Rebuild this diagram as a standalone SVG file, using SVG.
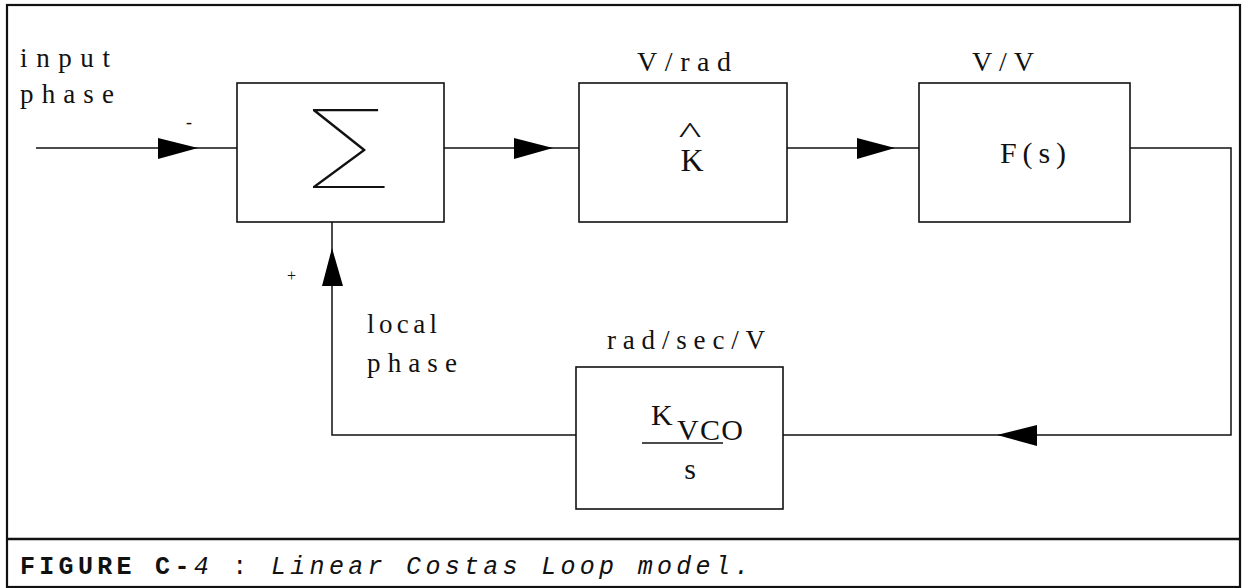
<svg xmlns="http://www.w3.org/2000/svg" width="1243" height="588" viewBox="0 0 1243 588">
<style>
.box{fill:none;stroke:#111;stroke-width:1.6}
.ln{fill:none;stroke:#111;stroke-width:1.5}
.ah{fill:#000;stroke:none}
.lbl{font-family:"Liberation Serif","DejaVu Serif",serif;font-size:27px;fill:#111}
.cap{font-family:"Liberation Mono","DejaVu Sans Mono",monospace;font-size:25px;fill:#111;letter-spacing:4.3px}
</style>
<rect width="1243" height="588" fill="#fff"/>
<g id="frame">
<rect x="7" y="5" width="1233" height="582" fill="none" stroke="#111" stroke-width="2.2"/>
<line x1="7" y1="539" x2="1240" y2="539" stroke="#111" stroke-width="2.4"/>
</g>
<g id="labels-input">
<text class="lbl" x="20" y="67" textLength="90">input</text>
<text class="lbl" x="20" y="103" textLength="94">phase</text>
<text class="lbl" x="186" y="128" style="font-size:18px">-</text>
<text class="lbl" x="287" y="281" style="font-size:16px">+</text>
<text class="lbl" x="367" y="333" textLength="70">local</text>
<text class="lbl" x="367" y="372" textLength="90">phase</text>
</g>
<g id="sum">
<rect class="box" x="237" y="83" width="207" height="139"/>
<text x="0" y="0" text-anchor="middle" transform="translate(351,176) scale(1.45,1)" style="font-family:Inter,'DejaVu Sans',sans-serif;font-weight:100;font-size:92px;fill:#111">∑</text>
</g>
<g id="gain">
<rect class="box" x="579" y="83" width="208" height="139"/>
<text class="lbl" x="684" y="71" text-anchor="middle" textLength="94" style="font-size:28px">V/rad</text>
<text class="lbl" x="0" y="0" text-anchor="middle" transform="translate(690,143) scale(1.6,1)" style="font-size:30px">^</text>
<text class="lbl" x="692" y="171" text-anchor="middle" style="font-size:32px">K</text>
</g>
<g id="filter">
<rect class="box" x="919" y="83" width="211" height="139"/>
<text class="lbl" x="1003" y="71" text-anchor="middle" textLength="62" style="font-size:28px">V/V</text>
<text class="lbl" x="1000" y="163" textLength="66" style="font-size:30px">F(s)</text>
</g>
<g id="vco">
<rect class="box" x="576" y="367" width="207" height="142"/>
<text class="lbl" x="686" y="349" text-anchor="middle" textLength="158">rad/sec/V</text>
<text class="lbl" x="651" y="425" style="font-size:30px">K</text>
<text class="lbl" x="677" y="440" textLength="66" style="font-size:30px">VCO</text>
<line class="ln" x1="642" y1="443" x2="723" y2="443"/>
<text class="lbl" x="690" y="479" text-anchor="middle" style="font-size:30px">s</text>
</g>
<g id="connectors">
<line class="ln" x1="36" y1="148" x2="237" y2="148"/>
<polygon class="ah" points="198,148 158,138 158,159"/>
<line class="ln" x1="444" y1="148" x2="579" y2="148"/>
<polygon class="ah" points="553,148 514,138 514,159"/>
<line class="ln" x1="787" y1="148" x2="919" y2="148"/>
<polygon class="ah" points="895,148 857,138 857,159"/>
<polyline class="ln" points="1130,148 1231,148 1231,435 783,435"/>
<polygon class="ah" points="997,435 1037,425 1037,446"/>
<polyline class="ln" points="576,435 332,435 332,222"/>
<polygon class="ah" points="332,248 322,286 343,286"/>
</g>
<g id="caption">
<text class="cap" x="20" y="574"><tspan font-weight="bold">FIGURE C-</tspan><tspan font-style="italic">4</tspan><tspan> : </tspan><tspan font-style="italic">Linear Costas Loop model.</tspan></text>
</g>
</svg>
